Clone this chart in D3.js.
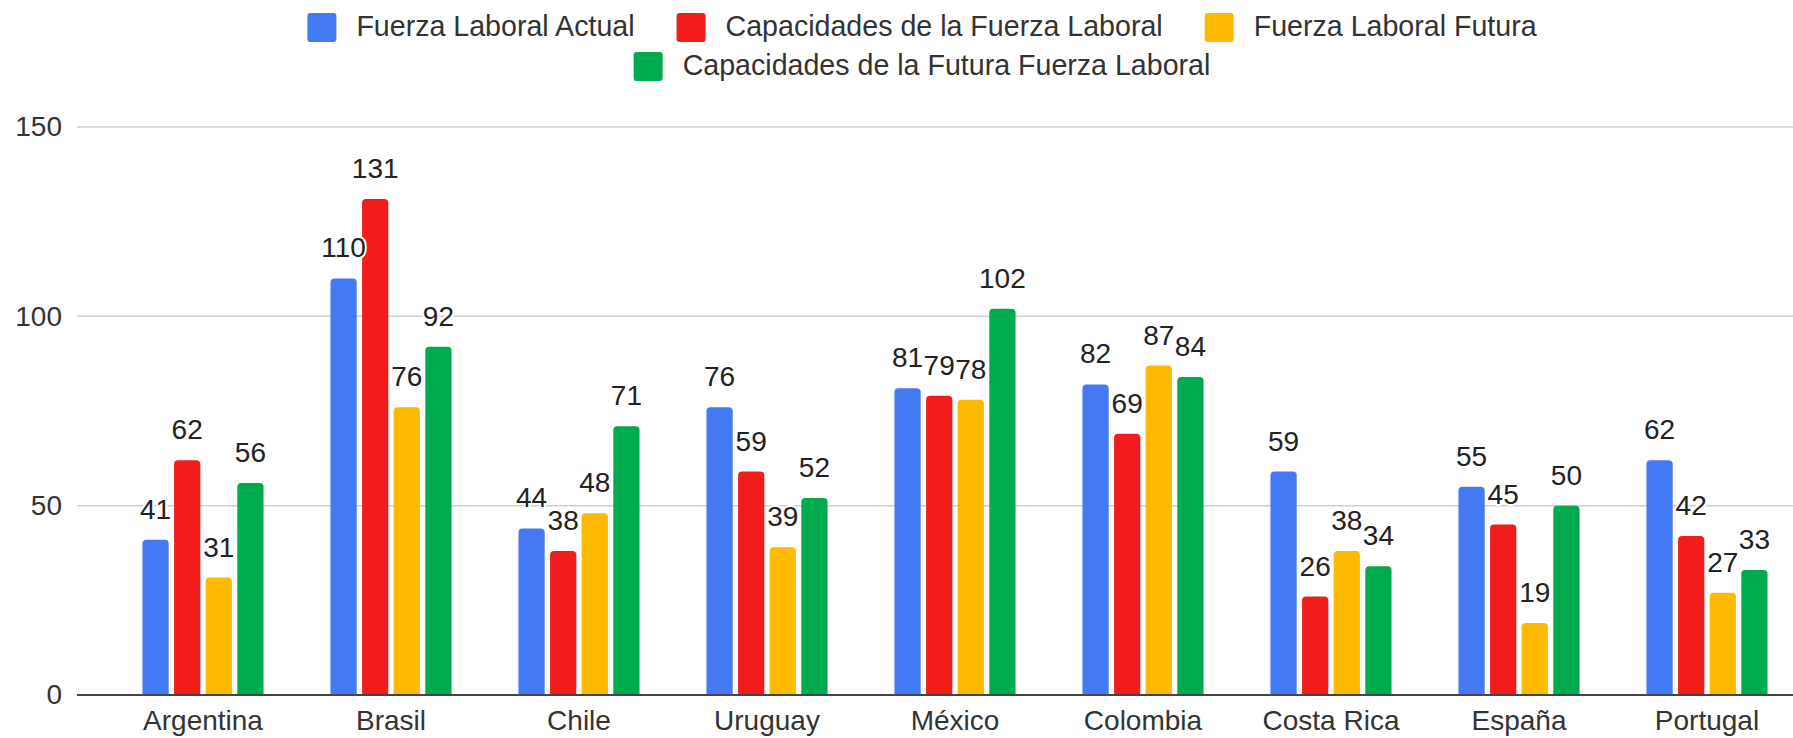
<!DOCTYPE html>
<html>
<head>
<meta charset="utf-8">
<script src="https://cdn.jsdelivr.net/npm/d3@7"></script>
<style>
  html, body { margin: 0; padding: 0; background: #ffffff; }
  svg { display: block; font-family: "Liberation Sans", Arial, sans-serif; }
</style>
</head>
<body>
<svg id="chart" width="1793" height="738"></svg>
<script>
const categories = ["Argentina", "Brasil", "Chile", "Uruguay", "México", "Colombia", "Costa Rica", "España", "Portugal"];
const seriesNames = ["Fuerza Laboral Actual", "Capacidades de la Fuerza Laboral", "Fuerza Laboral Futura", "Capacidades de la Futura Fuerza Laboral"];
const fuerzaActual       = [41, 110, 44, 76, 81, 82, 59, 55, 62];
const capacidadesActual  = [62, 131, 38, 59, 79, 69, 26, 45, 42];
const fuerzaFutura       = [31, 76, 48, 39, 78, 87, 38, 19, 27];
const capacidadesFutura  = [56, 92, 71, 52, 102, 84, 34, 50, 33];
const yTicks = [0, 50, 100, 150];
const colors = ["#4479F4", "#F21D1A", "#FDBA00", "#00AB4E"];

const seriesValues = [fuerzaActual, capacidadesActual, fuerzaFutura, capacidadesFutura];
const W = 1793, H = 738;
const svg = d3.select("#chart");
const FONT = 28;

const y = d3.scaleLinear().domain([0, 150]).range([695, 127]);
const x0 = d3.scaleBand().domain(categories).range([109, 1801]).paddingInner(0.356).paddingOuter(0.178);
const x1 = d3.scaleBand().domain(d3.range(seriesNames.length)).range([0, x0.bandwidth()]).paddingInner(0.17);

const plotLeft = 77;

// gridlines
const grid = svg.append("g");
grid.selectAll("line").data(yTicks.filter(t => t !== 0)).join("line")
  .attr("x1", plotLeft).attr("x2", W)
  .attr("y1", d => y(d)).attr("y2", d => y(d))
  .attr("stroke", "#cfcfcf").attr("stroke-width", 1.5);

// y axis labels
const yAxis = d3.axisLeft(y).tickValues(yTicks).tickSize(0).tickPadding(0);
const yg = svg.append("g").attr("transform", `translate(62,0)`).call(yAxis);
yg.select(".domain").remove();
yg.selectAll("text").attr("font-size", FONT).attr("fill", "#333").attr("font-family", "Liberation Sans, Arial, sans-serif");

// bars
function topRounded(x, yTop, w, h, r) {
  r = Math.min(r, w / 2, h);
  return `M${x},${yTop + h}V${yTop + r}Q${x},${yTop} ${x + r},${yTop}H${x + w - r}Q${x + w},${yTop} ${x + w},${yTop + r}V${yTop + h}Z`;
}
const barData = [];
categories.forEach((c, i) => {
  seriesValues.forEach((vals, s) => barData.push({ cat: c, s, v: vals[i] }));
});
svg.append("g").selectAll("path").data(barData).join("path")
  .attr("d", d => topRounded(x0(d.cat) + x1(d.s), y(d.v), x1.bandwidth(), y(0) - y(d.v), 4))
  .attr("fill", d => colors[d.s]);

// baseline
svg.append("line").attr("x1", plotLeft).attr("x2", W).attr("y1", y(0)).attr("y2", y(0))
  .attr("stroke", "#444").attr("stroke-width", 2);

// x axis labels
const xAxis = d3.axisBottom(x0).tickSize(0).tickPadding(0);
const xg = svg.append("g").attr("transform", `translate(0,${y(0)})`).call(xAxis);
xg.select(".domain").remove();
xg.selectAll("text").attr("font-size", FONT).attr("fill", "#333").attr("dy", null).attr("y", 35)
  .attr("font-family", "Liberation Sans, Arial, sans-serif");

// data labels
svg.append("g").selectAll("text").data(barData).join("text")
  .attr("x", d => x0(d.cat) + x1(d.s) + x1.bandwidth() / 2)
  .attr("y", d => y(d.v) - 21)
  .attr("text-anchor", "middle")
  .attr("font-size", FONT)
  .attr("fill", "#222")
  .attr("stroke", "#fff").attr("stroke-width", 4).attr("paint-order", "stroke")
  .attr("stroke-linejoin", "round")
  .text(d => d.v);

// legend
const legendCenter = 922;
const LFONT = 28.6;
const sw = 29, gapText = 20, gapItem = 42;
const rows = [[0, 1, 2], [3]];
const rowY = [13, 52];
rows.forEach((row, ri) => {
  const g = svg.append("g");
  const items = row.map(s => {
    const ig = g.append("g");
    ig.append("rect").attr("width", sw).attr("height", sw).attr("rx", 3).attr("fill", colors[s]);
    const t = ig.append("text").attr("x", sw + gapText).attr("y", 23).attr("font-size", LFONT)
      .attr("fill", "#333").text(seriesNames[s]);
    return { ig, w: sw + gapText + t.node().getComputedTextLength() };
  });
  const total = d3.sum(items, d => d.w) + gapItem * (items.length - 1);
  let cx = legendCenter - total / 2;
  items.forEach(it => {
    it.ig.attr("transform", `translate(${cx},${rowY[ri]})`);
    cx += it.w + gapItem;
  });
});
</script>
</body>
</html>
